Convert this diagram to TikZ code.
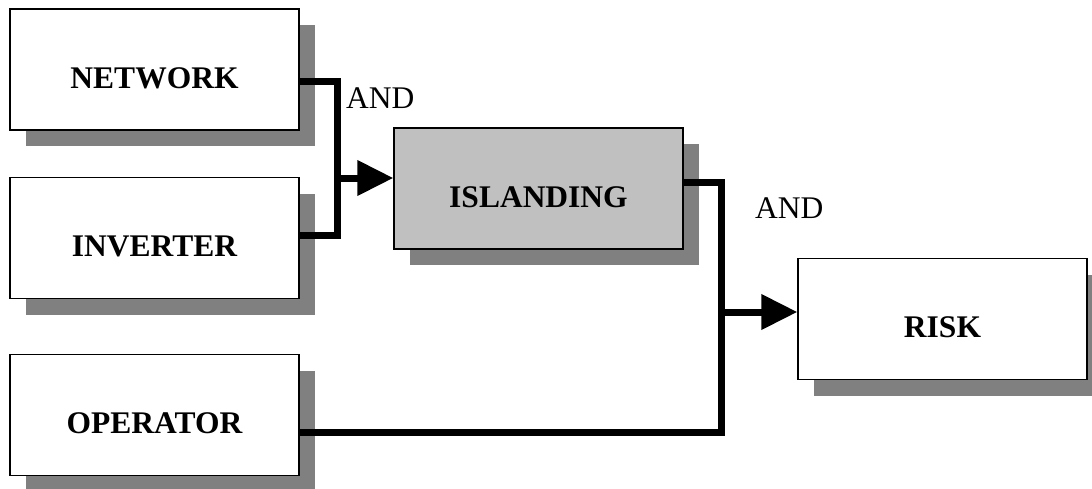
\documentclass[tikz,border=0pt]{standalone}
\usepackage{fontspec}
\setmainfont{Liberation Serif}
\usetikzlibrary{arrows.meta}
\definecolor{shadowgray}{RGB}{128,128,128}
\definecolor{islgray}{RGB}{192,192,192}
\begin{document}
\begin{tikzpicture}[x=1pt,y=-1pt,
  box/.style={draw=black, line width=1.3pt, fill=white, rectangle,
    minimum width=289pt, minimum height=121pt, inner sep=0pt,
    text height=37pt, text depth=0pt,
    font=\fontsize{31.5}{36}\selectfont\bfseries,
    preaction={fill=shadowgray, draw=none, transform canvas={xshift=16pt,yshift=-16pt}}},
  wire/.style={line width=7pt, line join=miter},
  arr/.style={wire, -{Triangle[length=36pt,width=34pt]}},
  andlbl/.style={font=\fontsize{31.5}{36}\selectfont, inner sep=0pt, anchor=base west}
]
\useasboundingbox (0,0) rectangle (1092,488);

\node[box] (net) at (154.5,69.5) {NETWORK};
\node[box] (inv) at (154.5,238) {INVERTER};
\node[box] (op)  at (154.5,415) {OPERATOR};
\node[box, fill=islgray] (isl) at (538.5,188.5) {ISLANDING};
\node[box] (risk) at (942.5,319) {RISK};

\coordinate (j1) at (337,178);
\coordinate (j2) at (721,312);

\draw[wire] ([yshift=-11.5pt]net.east) -| (j1) |- ([yshift=3pt]inv.east);
\draw[arr] (j1) -- (j1 -| isl.west);

\draw[wire] ([yshift=6.5pt]isl.east) -| (j2) |- ([yshift=-17pt]op.east);
\draw[arr] (j2) -- (j2 -| risk.west);

\node[andlbl] (and1) at (346,108) {AND};
\node[andlbl] (and2) at (755,218) {AND};
\end{tikzpicture}
\end{document}
